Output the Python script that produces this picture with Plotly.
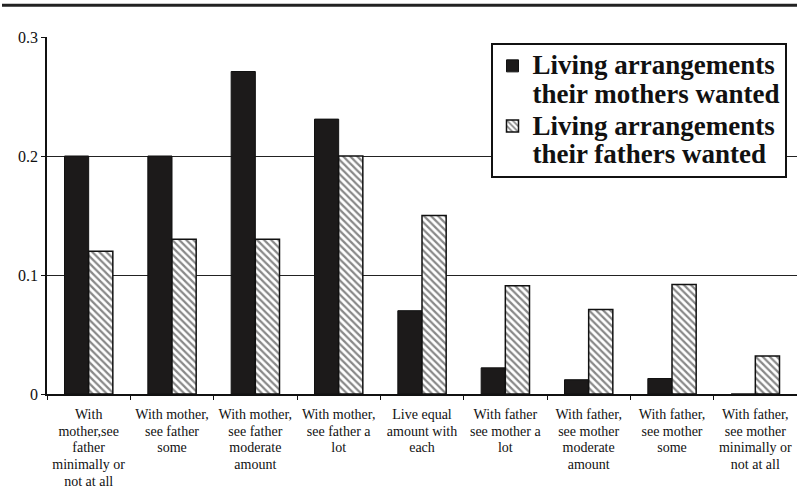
import plotly.graph_objects as go

categories = [
    "With<br>mother,see<br>father<br>minimally or<br>not at all",
    "With mother,<br>see father<br>some",
    "With mother,<br>see father<br>moderate<br>amount",
    "With mother,<br>see father a<br>lot",
    "Live equal<br>amount with<br>each",
    "With father<br>see mother a<br>lot",
    "With father,<br>see mother<br>moderate<br>amount",
    "With father,<br>see mother<br>some",
    "With father,<br>see mother<br>minimally or<br>not at all",
]
mothers_wanted = [0.20, 0.20, 0.271, 0.231, 0.07, 0.022, 0.012, 0.013, 0.0]
fathers_wanted = [0.12, 0.13, 0.13, 0.20, 0.15, 0.091, 0.071, 0.092, 0.032]
y_ticks = [0, 0.1, 0.2, 0.3]
y_tick_labels = ["0", "0.1", "0.2", "0.3"]
series_names = [
    ["Living arrangements", "their mothers wanted"],
    ["Living arrangements", "their fathers wanted"],
]

serif = "Liberation Serif, Times New Roman, serif"


def sized(text, px):
    return "<br>".join('<span style="font-size:%gpx">%s</span>' % (px, s)
                       for s in text.split("<br>"))


fig = go.Figure()
fig.add_trace(go.Bar(
    x=categories, y=mothers_wanted,
    name=sized("<br>".join(series_names[0]), 27),
    marker=dict(color="#1c1a1a", line=dict(color="#111", width=1)),
))
fig.add_trace(go.Bar(
    x=categories, y=fathers_wanted,
    name=sized("<br>".join(series_names[1]), 27),
    marker=dict(color="white", line=dict(color="#111", width=1.5),
                pattern=dict(shape="\\", fgcolor="#111", bgcolor="white",
                             size=5, solidity=0.45)),
))

fig.update_layout(
    width=797, height=489,
    margin=dict(l=47, r=0, t=37, b=91),
    paper_bgcolor="white", plot_bgcolor="white",
    barmode="group", bargap=0.42, bargroupgap=0,
    font=dict(family=serif, color="#111"),
    legend=dict(
        x=0.986, y=0.983, xanchor="right", yanchor="top",
        bgcolor="white", bordercolor="#111", borderwidth=2,
        font=dict(family=serif, size=22, color="#111", weight="bold"),
        tracegroupgap=0, itemwidth=30, valign="top",
    ),
    xaxis=dict(
        type="category", tickson="boundaries", ticks="outside", ticklen=4,
        tickcolor="#111", showline=True, linecolor="#111", linewidth=1.5,
        tickvals=categories, ticktext=[sized(c, 14) for c in categories],
        tickfont=dict(family=serif, size=12.8, color="#111"),
        ticklabelstandoff=8,
        showgrid=False, range=[-0.5, 8.5],
    ),
    yaxis=dict(
        range=[0, 0.3], tickvals=y_ticks, ticktext=y_tick_labels,
        ticks="outside", ticklen=4, tickcolor="#111",
        showline=True, linecolor="#111", linewidth=1.5,
        showgrid=True, gridcolor="#222", gridwidth=1,
        zeroline=False,
        tickfont=dict(family=serif, size=16, color="#111"),
    ),
    shapes=[dict(type="line", xref="paper", yref="paper",
                 x0=-0.06, x1=1.0, y0=1.0886, y1=1.0886,
                 line=dict(color="#222", width=3))],
)

fig.write_html("out.html", config={"displayModeBar": False},
               post_script="document.body.style.margin='0';")
